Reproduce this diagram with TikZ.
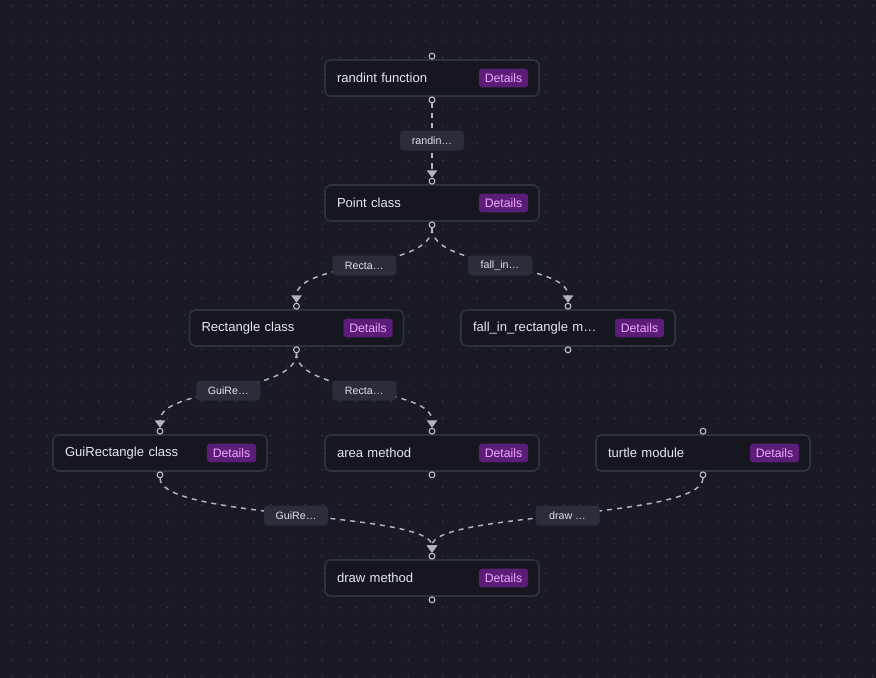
\documentclass[tikz,border=0pt]{standalone}
\usepackage{fontspec}
\setmainfont{Liberation Sans}
\usetikzlibrary{arrows.meta, positioning}
\definecolor{bgcol}{HTML}{191A23}
\definecolor{dotcol}{HTML}{3E414E}
\definecolor{nodefill}{HTML}{16171E}
\definecolor{nodeborder}{HTML}{2F313C}
\definecolor{nodetext}{HTML}{E4E7EC}
\definecolor{badgefill}{HTML}{5A1D78}
\definecolor{badgetext}{HTML}{F2A8FF}
\definecolor{edgecol}{HTML}{B4B4BC}
\definecolor{labelfill}{HTML}{2A2D3A}
\definecolor{labeltext}{HTML}{E0E4EA}
\definecolor{handlecol}{HTML}{C8C8CC}

\begin{document}
\begin{tikzpicture}[x = 0.75pt, y = -0.75pt,
    box/.style = {draw = nodeborder, fill = nodefill, line width = 1.2pt, rounded corners = 4pt, minimum width = 160.5pt, minimum height = 27pt, text width = 142.5pt, align = left, inner xsep = 9pt, text = nodetext, font = \fontsize{9.8}{11}\selectfont},
    badge/.style = {fill = badgefill, text = badgetext, rounded corners = 2.5pt, minimum width = 37pt, minimum height = 14pt, inner sep = 0pt, font = \fontsize{9.2}{10}\selectfont},
    handle/.style = {circle, draw = handlecol, fill = bgcol, line width = 0.75pt, inner sep = 0pt, minimum size = 4.4pt},
    flow/.style = {draw = edgecol, line width = 1.1pt, dash pattern = on 3.75pt off 3.75pt, -{Triangle[length = 5.6pt, width = 7.8pt]}},
    elabel/.style = {fill = labelfill, text = labeltext, rounded corners = 2.5pt, minimum width = 48pt, minimum height = 15pt, inner sep = 0pt, font = \fontsize{8}{9}\selectfont}]

  % canvas with dot grid
  \useasboundingbox (0,0) rectangle (876,678);
  \fill[bgcol] (0,0) rectangle (876,678);
  \foreach \i in {0,...,50}
    \foreach \j in {0,...,39}
      \fill[dotcol] (12.7+17.2*\i, 5.7+17.2*\j) circle (0.6pt);

  % nodes
  \node[box] (randint) at (432,78)   {randint function};
  \node[box] (point)   at (432,203)  {Point class};
  \node[box] (rect)    at (296.5,328) {Rectangle class};
  \node[box] (fall)    at (568,328)  {fall\_in\_rectangle m…};
  \node[box] (gui)     at (160,453)  {GuiRectangle class};
  \node[box] (area)    at (432,453)  {area method};
  \node[box] (turtle)  at (703,453)  {turtle module};
  \node[box] (drawm)   at (432,578)  {draw method};

  \foreach \n in {randint, point, rect, fall, gui, area, turtle, drawm} {
    \node[badge, left = 8.5pt of \n.east] (\n-d) {Details};
    \node[handle] (\n-in)  at ([yshift = 2.25pt]\n.north) {};
    \node[handle] (\n-out) at ([yshift = -2.25pt]\n.south) {};
  }

  % edges
  \draw[flow] (randint-out.south) .. controls +(0,41) and +(0,-41) .. (point-in.north)  node[elabel, pos = 0.5] {randin…};
  \draw[flow] (point-out.south)   .. controls +(0,41) and +(0,-41) .. (rect-in.north)   node[elabel, pos = 0.5] {Recta…};
  \draw[flow] (point-out.south)   .. controls +(0,41) and +(0,-41) .. (fall-in.north)   node[elabel, pos = 0.5] {fall\_in…};
  \draw[flow] (rect-out.south)    .. controls +(0,41) and +(0,-41) .. (gui-in.north)    node[elabel, pos = 0.5] {GuiRe…};
  \draw[flow] (rect-out.south)    .. controls +(0,41) and +(0,-41) .. (area-in.north)   node[elabel, pos = 0.5] {Recta…};
  \draw[flow] (gui-out.south)     .. controls +(0,41) and +(0,-41) .. (drawm-in.north)  node[elabel, pos = 0.5] {GuiRe…};
  \draw[flow] (turtle-out.south)  .. controls +(0,41) and +(0,-41) .. (drawm-in.north)  node[elabel, pos = 0.5] {draw …};
\end{tikzpicture}
\end{document}
